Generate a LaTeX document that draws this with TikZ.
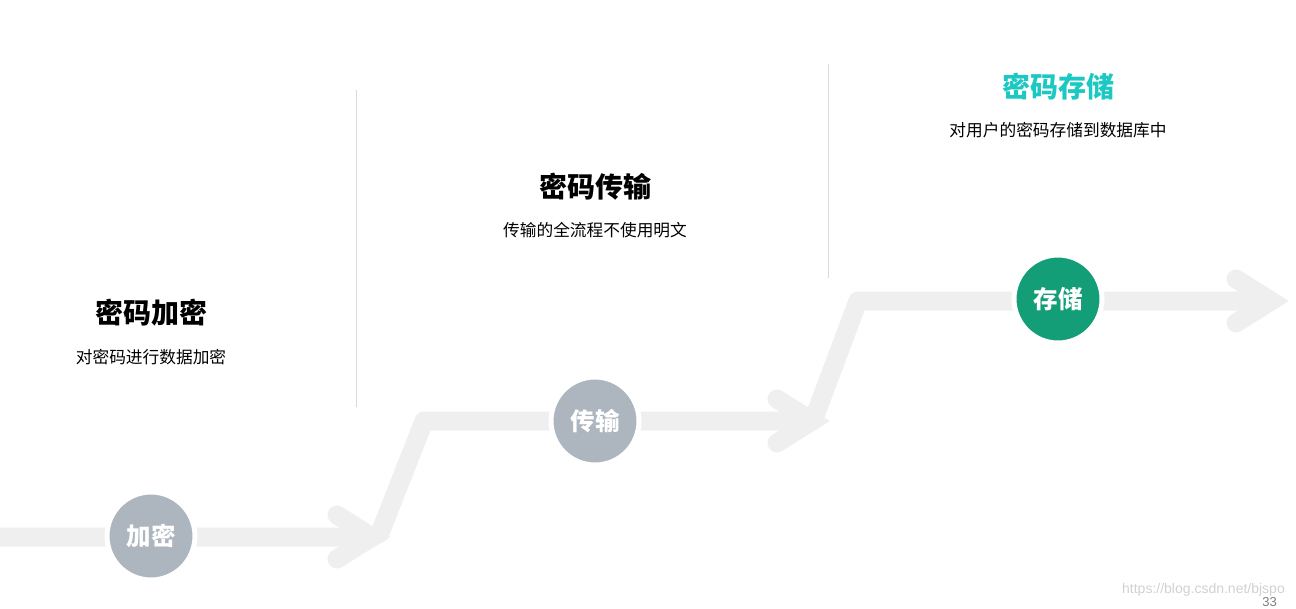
\documentclass[tikz,border=0pt]{standalone}
\usepackage{fontspec}
\newfontfamily\cjk{Noto Sans CJK SC}
\newfontfamily\latin{Liberation Sans}
\usepackage{tikz}
\usetikzlibrary{positioning}
\definecolor{bandgray}{HTML}{EFEFEF}
\definecolor{dotgray}{HTML}{ADB5BE}
\definecolor{dotgreen}{HTML}{149E78}
\definecolor{titleteal}{HTML}{1CC8C2}
\definecolor{rulegray}{HTML}{D9D9D9}
\tikzset{
  band/.style={draw=bandgray, line width=19pt, line join=round},
  chevron/.style={draw=bandgray, line width=19pt, line cap=round, line join=miter},
  stage/.style={circle, fill=dotgray, draw=white, line width=5pt, minimum size=88pt, inner sep=0pt, text=white, font=\cjk\bfseries\fontsize{24.5}{26}\selectfont},
  title/.style={inner sep=0pt, font=\cjk\bfseries\fontsize{28}{30}\selectfont},
  desc/.style={inner sep=0pt, font=\cjk\fontsize{16.7}{19}\selectfont},
  divider/.style={draw=rulegray, line width=1pt},
}
\begin{document}
\begin{tikzpicture}[x=1pt, y=-1pt]
    \useasboundingbox (0,0) rectangle (1296,608);
    % the rising path
    \coordinate (s0) at (0,537);
    \coordinate (t1) at (372,537);
    \coordinate (c1) at (424,421);
    \coordinate (t2) at (812,421);
    \coordinate (c2) at (858,301);
    \coordinate (t3) at (1271,301);
    \draw[band] (s0) -- (t1) -- ++(8,-4) -- (c1) -- (t2) -- ++(4,-8) -- (c2) -- (t3);
    \draw[chevron] (337,515) -- (t1) -- (337,559);
    \draw[chevron] (777,399) -- (t2) -- (777,443);
    \draw[chevron] (1236,279) -- (t3) -- (1236,323);
    % dividers
    \coordinate (d1a) at (356,90);
    \coordinate (d1b) at (356,407);
    \coordinate (d2a) at (828,64);
    \coordinate (d2b) at (828,278);
    \draw[divider] (d1a) -- (d1b);
    \draw[divider] (d2a) -- (d2b);
    % stages
    \node[stage] (enc) at (151,536) {加密};
    \node[stage] (trans) at (595,421) {传输};
    \node[stage, fill=dotgreen] (store) at (1058,299) {存储};
    \node[title] (enctitle) at (151,313) {密码加密};
    \node[desc] (encdesc) at (151,357) {对密码进行数据加密};
    \node[title] (transtitle) at (595,187) {密码传输};
    \node[desc] (transdesc) at (595,230) {传输的全流程不使用明文};
    \node[title, text=titleteal] (storetitle) at (1058,87) {密码存储};
    \node[desc] (storedesc) at (1058,130) {对用户的密码存储到数据库中};
    % footer
    \node[inner sep=0pt, anchor=east, text=black!18, font=\latin\fontsize{14}{16}\selectfont] (mark) at (1285,590) {https://blog.csdn.net/bjspo};
    \node[inner sep=0pt, anchor=east, text=black!50, font=\latin\fontsize{13}{15}\selectfont] (page) at (1277,602) {33};
\end{tikzpicture}
\end{document}
